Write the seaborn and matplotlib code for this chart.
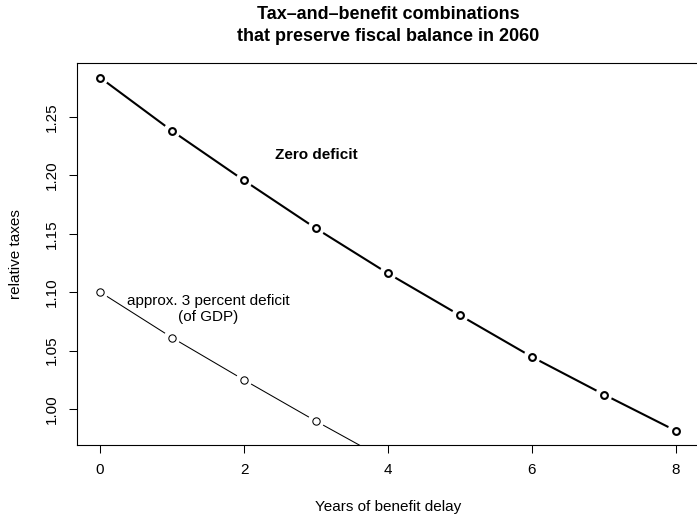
import matplotlib
matplotlib.use("Agg")
import matplotlib.pyplot as plt
import seaborn as sns
import pandas as pd

# Data
years_zero = [0, 1, 2, 3, 4, 5, 6, 7, 8]
taxes_zero = [1.2837, 1.2380, 1.1956, 1.1545, 1.1160, 1.0801, 1.0445, 1.0123, 0.9812]
years_def3 = [0, 1, 2, 3, 4]
taxes_def3 = [1.1001, 1.0610, 1.0248, 0.9895, 0.9555]

title_text = "Tax\u2013and\u2013benefit combinations\nthat preserve fiscal balance in 2060"
xlabel_text = "Years of benefit delay"
ylabel_text = "relative taxes"
xticks = [0, 2, 4, 6, 8]
yticks = [1.00, 1.05, 1.10, 1.15, 1.20, 1.25]
ytick_labels = ["1.00", "1.05", "1.10", "1.15", "1.20", "1.25"]

sns.set_style("ticks", {"axes.edgecolor": "black", "text.color": "black",
                        "axes.labelcolor": "black", "xtick.color": "black",
                        "ytick.color": "black"})
plt.rcParams["font.family"] = ["Liberation Sans", "DejaVu Sans"]

W, H = 697, 519
fig = plt.figure(figsize=(W / 100, H / 100), dpi=100)
left, right, top, bottom = 77.0, 699.0, 63.4, 445.0
ax = fig.add_axes([left / W, 1 - bottom / H, (right - left) / W, (bottom - top) / H])

df_zero = pd.DataFrame({"x": years_zero, "y": taxes_zero})
df_def = pd.DataFrame({"x": years_def3, "y": taxes_def3})

# Lines
sns.lineplot(data=df_zero, x="x", y="y", ax=ax, color="black", linewidth=1.5, zorder=2)
sns.lineplot(data=df_def, x="x", y="y", ax=ax, color="black", linewidth=0.75, zorder=2)
# white halos to emulate R type="b" gaps around points
sns.scatterplot(data=df_zero, x="x", y="y", ax=ax, s=150, color="white", edgecolor="none", zorder=3)
sns.scatterplot(data=df_def, x="x", y="y", ax=ax, s=140, color="white", edgecolor="none", zorder=3)
# open circles
sns.scatterplot(data=df_zero, x="x", y="y", ax=ax, s=24, facecolor="white", edgecolor="black",
                linewidth=1.5, zorder=4)
sns.scatterplot(data=df_def, x="x", y="y", ax=ax, s=28, facecolor="white", edgecolor="black",
                linewidth=0.75, zorder=4)

# R-style limits (4% extension of the data range)
ymin, ymax = min(taxes_zero), max(taxes_zero)
ext = 0.04 * (ymax - ymin)
ax.set_ylim(ymin - ext, ymax + ext)
ax.set_xlim(-0.32, 8.32)

ax.set_xticks(xticks)
ax.set_xticklabels([str(t) for t in xticks])
ax.set_yticks(yticks)
ax.set_yticklabels(ytick_labels, rotation=90, va="center")

ax.tick_params(axis="both", direction="out", length=5.5, width=0.75, color="black",
               labelsize=11, pad=7.5)
for name, s in ax.spines.items():
    s.set_linewidth(0.8)
    s.set_color("black")
ax.spines["right"].set_visible(False)

ax.set_xlabel(xlabel_text, fontsize=11)
ax.set_ylabel(ylabel_text, fontsize=11)
ax.xaxis.set_label_coords(0.5, -0.163)
ax.xaxis.label.set_va("center")
ax.yaxis.set_label_coords(-0.098, 0.5)
ax.yaxis.label.set_va("center")

ax.text(3, 1.217, "Zero deficit", fontsize=11, fontweight="bold", ha="center", va="center")
ax.text(1.5, 1.0855, "approx. 3 percent deficit\n(of GDP)", fontsize=11, ha="center", va="center",
        linespacing=1.2)

fig.text((77.0 + 699.0) / 2 / W, 1 - 25.5 / H, title_text, fontsize=13, fontweight="bold",
         ha="center", va="center", linespacing=1.32)

fig.savefig("out.png", dpi=100)
